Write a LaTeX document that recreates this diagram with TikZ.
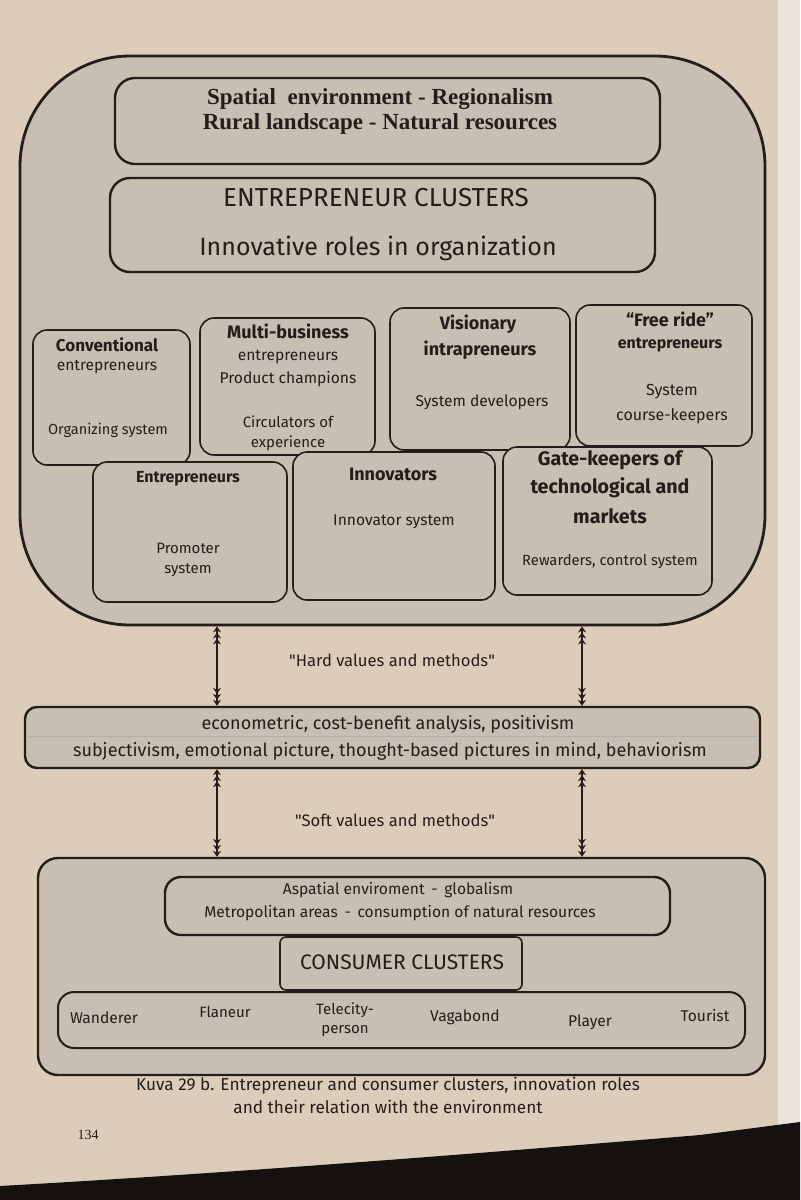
\documentclass[tikz,border=0pt]{standalone}
\usepackage{fontspec}
\setmainfont{Fira Sans}
\newfontfamily\serifbold{Liberation Serif}
\usetikzlibrary{arrows.meta,fit}
\definecolor{page}{HTML}{DBCDBA}
\definecolor{boxfill}{HTML}{C8BEB2}
\definecolor{edge}{HTML}{231E1A}
\definecolor{dark}{HTML}{14110F}
\definecolor{nextpage}{HTML}{E9E2D8}
\newcommand{\fs}[1]{\fontsize{#1}{#1}\selectfont}
\tikzset{
  frame/.style={draw=edge, line width=1.2pt, fill=boxfill, inner sep=0pt, rounded corners=6pt},
  cell/.style={frame, line width=0.8pt, rounded corners=7pt},
  t/.style={inner sep=0pt, align=center, text=edge},
  tb/.style={t, font=\bfseries},
  tri/.tip={Stealth[length=3pt,width=4pt] Stealth[length=3pt,width=4pt] Stealth[length=3pt,width=4pt]},
  arr/.style={draw=edge, line width=0.9pt, {tri}-{tri}},
}
\begin{document}
\begin{tikzpicture}[x=0.5pt,y=-0.5pt]
\useasboundingbox (0,0) rectangle (800,1200);
\fill[page] (0,0) rectangle (800,1200);
\fill[nextpage] (778,0) rectangle (800,1130);
\fill[dark] (0,1200) -- (0,1186) .. controls (250,1172) and (520,1150) .. (700,1135) -- (800,1122) -- (800,1200) -- cycle;

% ---------- upper container ----------
\node[frame, rounded corners=55pt, line width=1.4pt, fit={(20,56) (765,625)}] (outer) {};
\node[frame, rounded corners=10pt, fit={(115,78) (660,164)}] (spatial) {};
\node[t, font=\serifbold\bfseries\fs{11.5}] (sp1) at (380,99) {Spatial\ \ environment - Regionalism};
\node[t, font=\serifbold\bfseries\fs{11.5}] (sp2) at (380,124) {Rural landscape - Natural resources};
\node[frame, rounded corners=10pt, fit={(110,178) (655,272)}] (ent) {};
\node[t, font=\fs{13}] (ent1) at (376,198) {ENTREPRENEUR CLUSTERS};
\node[t, font=\fs{12.5}] (ent2) at (378,248) {Innovative roles in organization};

% row 1
\node[cell, fit={(33,330) (190,465)}] (conv) {};
\node[tb, font=\bfseries\fs{8.5}] (conv1) at (107,345) {Conventional};
\node[t, font=\fs{7.8}] (conv2) at (107,367) {entrepreneurs};
\node[t, font=\fs{7.3}] (conv3) at (108,430) {Organizing system};

\node[cell, fit={(200,318) (375,455)}] (multi) {};
\node[tb, font=\bfseries\fs{9}] (multi1) at (288,331) {Multi-business};
\node[t, font=\fs{7.8}] (multi2) at (288,357) {entrepreneurs};
\node[t, font=\fs{7.8}] (multi3) at (288,379) {Product champions};
\node[t, font=\fs{7.5}] (multi4) at (288,422) {Circulators of};
\node[t, font=\fs{7.5}] (multi5) at (288,443) {experience};

\node[cell, fit={(390,308) (570,450)}] (vis) {};
\node[tb, font=\bfseries\fs{9}] (vis1) at (478,324) {Visionary};
\node[tb, font=\bfseries\fs{9}] (vis2) at (480,350) {intrapreneurs};
\node[t, font=\fs{7.8}] (vis3) at (482,402) {System developers};

\node[cell, fit={(576,305) (752,446)}] (free) {};
\node[tb, font=\bfseries\fs{9}] (free1) at (670,319) {“Free ride”};
\node[tb, font=\bfseries\fs{8}] (free2) at (670,345) {entrepreneurs};
\node[t, font=\fs{8}] (free3) at (672,392) {System};
\node[t, font=\fs{8}] (free4) at (672,416) {course-keepers};

% row 2
\node[cell, fit={(93,462) (287,602)}] (entr) {};
\node[tb, font=\bfseries\fs{8}] (entr1) at (188,479) {Entrepreneurs};
\node[t, font=\fs{7.5}] (entr2) at (188,548) {Promoter};
\node[t, font=\fs{7.5}] (entr3) at (188,570) {system};

\node[cell, fit={(293,452) (495,600)}] (inno) {};
\node[tb, font=\bfseries\fs{9}] (inno1) at (393,474) {Innovators};
\node[t, font=\fs{7.8}] (inno2) at (394,522) {Innovator system};

\node[cell, fit={(503,447) (712,595)}] (gate) {};
\node[tb, font=\bfseries\fs{9.8}] (gate1) at (610,460) {Gate-keepers of};
\node[tb, font=\bfseries\fs{9.8}] (gate2) at (610,488) {technological and};
\node[tb, font=\bfseries\fs{9.8}] (gate3) at (610,516) {markets};
\node[t, font=\fs{7.4}] (gate4) at (610,562) {Rewarders, control system};

% ---------- middle band ----------
\node[frame, rounded corners=6pt, fit={(25,707) (760,768)}] (band) {};
\draw[edge!35, line width=0.4pt] ([xshift=1pt]band.west |- 0,736) -- ([xshift=-1pt]band.east |- 0,736);
\node[t, font=\fs{9}] (band1) at (388,724) {econometric, cost-benefit analysis, positivism};
\node[t, font=\fs{9}] (band2) at (390,751) {subjectivism, emotional picture, thought-based pictures in mind, behaviorism};

\coordinate (L) at (217,0);
\coordinate (R) at (582,0);
\draw[arr] (outer.south -| L) -- (band.north -| L);
\draw[arr] (outer.south -| R) -- (band.north -| R);
\node[t, font=\fs{8.3}] (hard) at (392,660) {\textquotedbl Hard values and methods\textquotedbl};

% ---------- lower container ----------
\node[frame, rounded corners=10pt, fit={(38,858) (765,1075)}] (lower) {};
\draw[arr] (band.south -| L) -- (lower.north -| L);
\draw[arr] (band.south -| R) -- (lower.north -| R);
\node[t, font=\fs{8.3}] (soft) at (395,820) {\textquotedbl Soft values and methods\textquotedbl};

\node[frame, rounded corners=8pt, fit={(165,877) (670,935)}] (asp) {};
\node[t, font=\fs{7.8}] (asp1) at (398,890) {Aspatial enviroment \,-\, globalism};
\node[t, font=\fs{7.8}] (asp2) at (400,913) {Metropolitan areas \,-\, consumption of natural resources};

\node[frame, line width=0.8pt, rounded corners=3pt, fit={(280,937) (522,990)}] (cons) {};
\node[t, font=\fs{10.5}] (cons1) at (402,962) {CONSUMER CLUSTERS};

\node[frame, line width=1pt, rounded corners=8pt, fit={(58,992) (745,1048)}] (types) {};
\node[t, font=\fs{7.8}] (w1) at (104,1018) {Wanderer};
\node[t, font=\fs{7.5}] (w2) at (225,1012) {Flaneur};
\node[t, font=\fs{7.5}, align=center] (w3) at (345,1020) {Telecity-\\[2pt]person};
\node[t, font=\fs{7.8}] (w4) at (465,1017) {Vagabond};
\node[t, font=\fs{7.8}] (w5) at (590,1022) {Player};
\node[t, font=\fs{7.8}] (w6) at (705,1015) {Tourist};

% ---------- caption ----------
\node[t, font=\fs{8.6}] (cap1) at (388,1086) {Kuva 29 b. Entrepreneur and consumer clusters, innovation roles};
\node[t, font=\fs{8.6}] (cap2) at (388,1107) {and their relation with the environment};
\node[t, font=\serifbold\fs{7}] (pg) at (88,1135) {134};
\end{tikzpicture}
\end{document}
